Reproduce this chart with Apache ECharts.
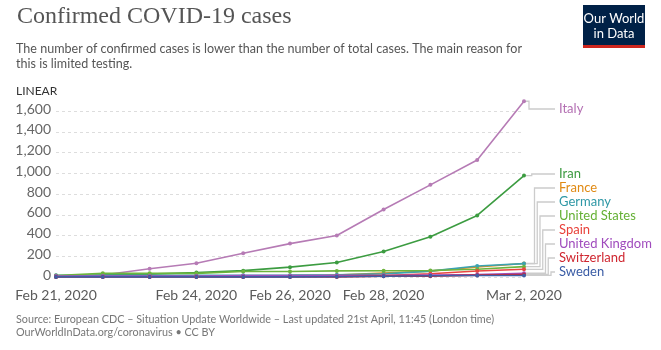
<!DOCTYPE html>
<html>
<head>
<meta charset="utf-8">
<script src="https://cdn.jsdelivr.net/npm/echarts@6/dist/echarts.min.js"></script>
<style>
  html, body { margin: 0; padding: 0; background: #fff; }
  #chart { width: 661px; height: 350px; }
</style>
</head>
<body>
<div id="chart"></div>
<script>
// dates along the x axis (one point per day)
var dates = ['Feb 21, 2020', 'Feb 22, 2020', 'Feb 23, 2020', 'Feb 24, 2020', 'Feb 25, 2020', 'Feb 26, 2020',
  'Feb 27, 2020', 'Feb 28, 2020', 'Feb 29, 2020', 'Mar 1, 2020', 'Mar 2, 2020'];
var shownDates = ['Feb 21, 2020', 'Feb 24, 2020', 'Feb 26, 2020', 'Feb 28, 2020', 'Mar 2, 2020'];

// confirmed cases
var italy = [3, 20, 79, 132, 229, 322, 400, 650, 888, 1128, 1694];
var iran = [5, 18, 28, 43, 61, 95, 139, 245, 388, 593, 978];
var france = [12, 12, 12, 12, 12, 14, 18, 38, 57, 96, 130];
var germany = [16, 16, 16, 16, 16, 18, 21, 30, 57, 106, 129];
var unitedStates = [15, 35, 35, 35, 53, 53, 59, 60, 62, 75, 100];
var spain = [2, 2, 2, 2, 2, 6, 13, 15, 32, 58, 74];
var unitedKingdom = [9, 9, 9, 9, 13, 13, 13, 15, 20, 23, 36];
var switzerland = [0, 0, 0, 0, 0, 1, 1, 8, 8, 18, 24];
var sweden = [1, 1, 1, 1, 1, 1, 2, 7, 12, 14, 15];

var countries = [
  { name: 'Italy', data: italy, color: '#b67bb5', text: '#b470b3' },
  { name: 'Iran', data: iran, color: '#3c9c41', text: '#3b9a40' },
  { name: 'France', data: france, color: '#e38f1b', text: '#e08a14' },
  { name: 'Germany', data: germany, color: '#3aa3b1', text: '#2f98a6' },
  { name: 'United States', data: unitedStates, color: '#6db43d', text: '#64b034' },
  { name: 'Spain', data: spain, color: '#e9453f', text: '#e8413a' },
  { name: 'United Kingdom', data: unitedKingdom, color: '#a24fbd', text: '#a04bbd' },
  { name: 'Switzerland', data: switzerland, color: '#d1262f', text: '#cf2630' },
  { name: 'Sweden', data: sweden, color: '#3e5fa6', text: '#3a5ca5' }
];

var yTicks = [0, 200, 400, 600, 800, 1000, 1200, 1400, 1600];

function fmt(v) {
  return String(v).replace(/\B(?=(\d{3})+(?!\d))/g, ',');
}

var myChart = echarts.init(document.getElementById('chart'));

var textGraphics = [
  { type: 'text', x: 17, y: 5, style: { text: 'Confirmed COVID-19 cases', font: '24px "Liberation Serif"', fill: '#555' } },
  { type: 'text', x: 16, y: 41, scaleX: 0.93, style: { text: 'The number of confirmed cases is lower than the number of total cases. The main reason for\nthis is limited testing.', font: '13.5px Lato', fill: '#555', lineHeight: 15 } },
  { type: 'text', x: 16, y: 85, style: { text: 'LINEAR', font: '12px Lato', fill: '#333' } },
  { type: 'text', x: 16, y: 313, scaleX: 0.94, style: { text: 'Source: European CDC \u2013 Situation Update Worldwide \u2013 Last updated 21st April, 11:45 (London time)\nOurWorldInData.org/coronavirus \u2022 CC BY', font: '11.5px Lato', fill: '#777', lineHeight: 13 } },
  { type: 'rect', shape: { x: 583, y: 5, width: 62, height: 40 }, style: { fill: '#002147' } },
  { type: 'rect', shape: { x: 583, y: 45, width: 62, height: 3 }, style: { fill: '#ce261e' } },
  { type: 'text', x: 614, y: 11, style: { text: 'Our World\nin Data', font: '13px Lato', fill: '#fff', align: 'center', lineHeight: 15 } }
];

var option = {
  animation: false,
  grid: { left: 56, right: 137, top: 111, bottom: 73 },
  xAxis: {
    type: 'category',
    data: dates,
    boundaryGap: false,
    axisLine: { show: false },
    axisTick: { show: false },
    axisLabel: {
      interval: function (i, v) { return shownDates.indexOf(v) >= 0; },
      color: '#5b5b5b',
      fontFamily: 'Lato',
      fontSize: 14,
      margin: 11
    },
    splitLine: { show: false }
  },
  yAxis: {
    type: 'value',
    min: yTicks[0],
    max: yTicks[yTicks.length - 1],
    interval: 200,
    axisLine: { show: false },
    axisTick: { show: false },
    axisLabel: {
      color: '#666',
      fontFamily: 'Lato',
      fontSize: 14,
      margin: 5,
      verticalAlign: 'bottom',
      lineHeight: 14,
      padding: [0, 0, -5, 0],
      formatter: fmt
    },
    splitLine: { lineStyle: { color: '#ddd', type: [3, 3] } }
  },
  series: countries.map(function (c) {
    return {
      name: c.name,
      type: 'line',
      data: c.data,
      clip: false,
      symbol: 'circle',
      symbolSize: 4,
      lineStyle: { width: 1.6, color: c.color },
      itemStyle: { color: c.color }
    };
  }),
  graphic: textGraphics
};
myChart.setOption(option);

// end labels with elbow leader lines, stacked so they do not overlap
var last = dates.length - 1;
var ends = countries.map(function (c, i) {
  var p = myChart.convertToPixel({ seriesIndex: i }, [last, c.data[last]]);
  return { c: c, px: p[0], py: p[1] };
});
var zeroY = myChart.convertToPixel({ yAxisIndex: 0 }, 0);
var topY = myChart.convertToPixel({ yAxisIndex: 0 }, yTicks[yTicks.length - 1]);
var order = ends.slice().sort(function (a, b) { return a.py - b.py; });
var prev = zeroY - 5 + 14;
for (var k = order.length - 1; k >= 0; k--) {
  var ly = Math.min(order[k].py, prev - 14);
  order[k].ly = ly;
  prev = ly;
}
order.forEach(function (e) { e.ly = Math.max(e.ly, topY - 2); });

var labelGraphics = [];
order.forEach(function (e, i) {
  var vx = e.px + 5 + i * 2.75;
  labelGraphics.push({
    type: 'polyline',
    z: -1,
    shape: { points: [[e.px + 2, e.py], [vx, e.py], [vx, e.ly], [e.px + 31, e.ly]] },
    style: { stroke: '#ccc', lineWidth: 1.3, fill: null }
  });
  labelGraphics.push({
    type: 'text',
    x: e.px + 35,
    y: e.ly,
    style: { text: e.c.name, font: '13px Lato', fill: e.c.text, verticalAlign: 'middle' }
  });
});

myChart.setOption({ graphic: textGraphics.concat(labelGraphics) });
</script>
</body>
</html>
